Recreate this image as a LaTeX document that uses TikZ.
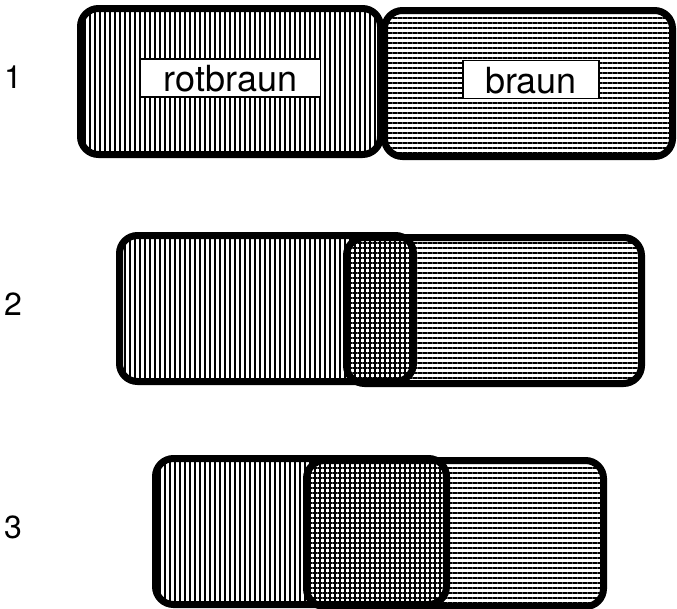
\documentclass[tikz,border=0pt]{standalone}
\usepackage{fontspec}
\setmainfont{TeX Gyre Heros}
\usetikzlibrary{patterns.meta}

\tikzset{
	rotfeld/.style={pattern={Lines[angle=90,distance=5pt,line width=1.7pt]}},
	braunfeld/.style={pattern={Lines[angle=0,distance=5pt,line width=1.6pt]}},
	rahmen/.style={line width=7pt,rounded corners=18pt},
	schild/.style={draw,line width=1.3pt,fill=white,inner sep=0pt,minimum height=38pt,text height=27pt,text depth=0pt,font=\fontsize{36}{36}\selectfont},
	nummer/.style={font=\fontsize{32}{32}\selectfont}
}

\begin{document}
\begin{tikzpicture}[x=1pt,y=-1pt]
			\useasboundingbox (0,0) rectangle (677,608);
			% rows: left box x1..x2, right box x3..x4, top y, number
			\foreach \xa/\xb/\xc/\xd/\ya/\n in {80.5/380.5/384.5/672.5/8.5/1, 119.5/413.5/346.5/641.5/235.5/2, 155.5/446.5/306.5/603.5/458.5/3}{
				\fill[rotfeld, rounded corners=18pt] (\xa,\ya) rectangle (\xb,\ya+146);
				\fill[braunfeld, rounded corners=18pt] (\xc,\ya+2) rectangle (\xd,\ya+148);
				\draw[rahmen] (\xa,\ya) rectangle (\xb,\ya+146);
				\draw[rahmen] (\xc,\ya+2) rectangle (\xd,\ya+148);
				\node[nummer] (n\n) at (13,\ya+69) {\n};
			}
			\node[schild, minimum width=180pt] (rot) at (230.5,78) {rotbraun};
			\node[schild, minimum width=136pt] (braun) at (531,79.5) {braun};
\end{tikzpicture}
\end{document}
